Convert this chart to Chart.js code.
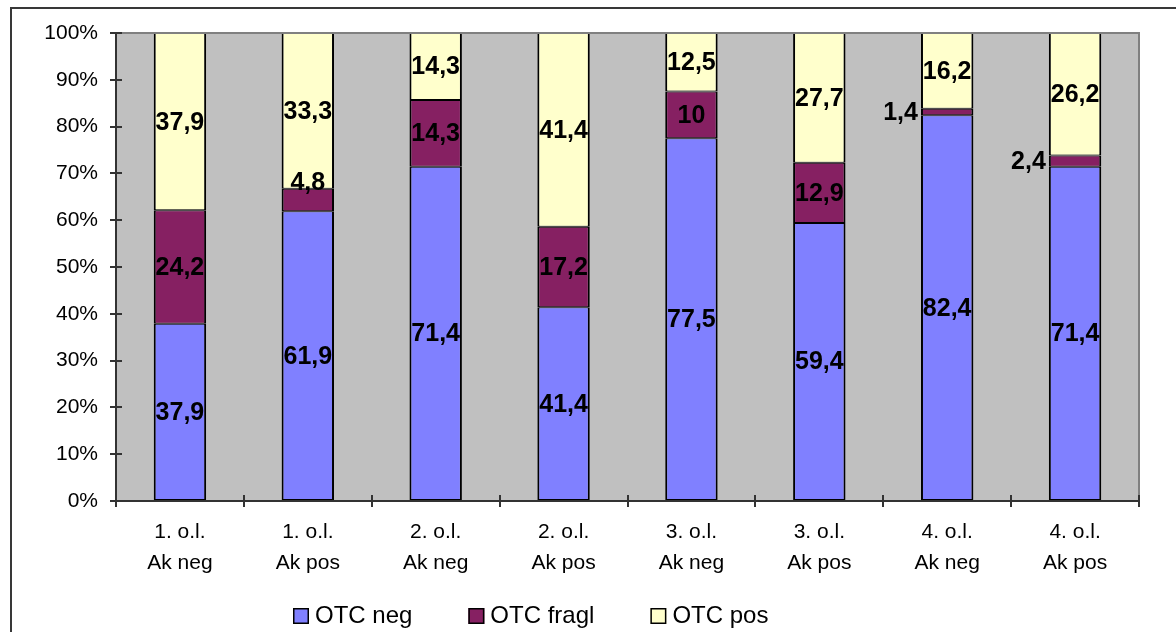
<!DOCTYPE html>
<html>
<head>
<meta charset="utf-8">
<style>
  html, body { margin: 0; padding: 0; background: #ffffff; }
  canvas { display: block; }
</style>
<script src="https://cdn.jsdelivr.net/npm/chart.js@4/dist/chart.umd.min.js"></script>
</head>
<body>
<canvas id="chart" width="1176" height="632"></canvas>
<script>
// Categories: two-line labels (line 1 = period, line 2 = antibody status)
const categories = [
  ['1. o.l.', 'Ak neg'], ['1. o.l.', 'Ak pos'],
  ['2. o.l.', 'Ak neg'], ['2. o.l.', 'Ak pos'],
  ['3. o.l.', 'Ak neg'], ['3. o.l.', 'Ak pos'],
  ['4. o.l.', 'Ak neg'], ['4. o.l.', 'Ak pos']
];

// Shares in percent, stacked from the bottom
const otcNeg   = [37.9, 61.9, 71.4, 41.4, 77.5, 59.4, 82.4, 71.4];
const otcFragl = [24.2, 4.8, 14.3, 17.2, 10, 12.9, 1.4, 2.4];
const otcPos   = [37.9, 33.3, 14.3, 41.4, 12.5, 27.7, 16.2, 26.2];

const seriesNames = ['OTC neg', 'OTC fragl', 'OTC pos'];
const yTicks = [0, 10, 20, 30, 40, 50, 60, 70, 80, 90, 100];

const COLORS = ['#8080FF', '#862062', '#FFFFCC'];
const FONT = '"Liberation Sans", Arial, Helvetica, sans-serif';

// Page background, outer frame and grey plot area
const backgroundPlugin = {
  id: 'background',
  beforeDraw(chart) {
    const { ctx, chartArea: a } = chart;
    ctx.save();
    ctx.fillStyle = '#ffffff';
    ctx.fillRect(0, 0, chart.width, chart.height);
    ctx.strokeStyle = '#383838';
    ctx.lineWidth = 2;
    ctx.strokeRect(11, 8, chart.width + 40, chart.height + 40);
    ctx.fillStyle = '#C0C0C0';
    ctx.fillRect(a.left, a.top, a.right - a.left, a.bottom - a.top);
    ctx.restore();
  }
};

// Plot border (top/right), inner halves of the crossing tick marks
const frameTicksPlugin = {
  id: 'frameTicks',
  afterDatasetsDraw(chart) {
    const { ctx, chartArea: a, scales } = chart;
    ctx.save();
    ctx.strokeStyle = '#808080';
    ctx.lineWidth = 2;
    ctx.beginPath();
    ctx.moveTo(a.left, a.top);
    ctx.lineTo(a.right, a.top);
    ctx.lineTo(a.right, a.bottom);
    ctx.stroke();

    ctx.strokeStyle = '#333333';
    ctx.lineWidth = 2;
    ctx.beginPath();
    yTicks.forEach(v => {
      const y = Math.round(scales.y.getPixelForValue(v));
      ctx.moveTo(a.left, y);
      ctx.lineTo(a.left + 6, y);
    });
    const n = categories.length;
    for (let i = 0; i <= n; i++) {
      const x = Math.round(a.left + (a.right - a.left) * i / n);
      ctx.moveTo(x, a.bottom);
      ctx.lineTo(x, a.bottom - 6);
    }
    ctx.stroke();
    ctx.restore();
  }
};

// Value labels on each segment; thin segments get the label beside or above
const valueLabelPlugin = {
  id: 'valueLabels',
  afterDatasetsDraw(chart) {
    const { ctx } = chart;
    ctx.save();
    ctx.fillStyle = '#000000';
    ctx.font = 'bold 25px ' + FONT;
    chart.data.datasets.forEach((ds, di) => {
      const meta = chart.getDatasetMeta(di);
      meta.data.forEach((bar, i) => {
        const v = ds.data[i];
        const text = String(v).replace('.', ',');
        const top = Math.min(bar.y, bar.base);
        const bottom = Math.max(bar.y, bar.base);
        const h = bottom - top;
        const mid = (top + bottom) / 2;
        ctx.textBaseline = 'middle';
        if (h < 15) {
          ctx.textAlign = 'right';
          ctx.fillText(text, bar.x - bar.width / 2 - 3, mid + 1);
        } else if (h < 28) {
          ctx.textAlign = 'center';
          ctx.fillText(text, bar.x, top - 6);
        } else {
          ctx.textAlign = 'center';
          ctx.fillText(text, bar.x, mid + 1);
        }
      });
    });
    ctx.restore();
  }
};

// Legend row under the category labels
const legendPlugin = {
  id: 'legendRow',
  afterDraw(chart) {
    const { ctx } = chart;
    ctx.save();
    ctx.font = '24px ' + FONT;
    ctx.textAlign = 'left';
    ctx.textBaseline = 'alphabetic';
    let x = 293;
    const boxTop = 608, box = 16;
    seriesNames.forEach((name, i) => {
      ctx.fillStyle = COLORS[i];
      ctx.fillRect(x, boxTop, box, box);
      ctx.strokeStyle = '#000000';
      ctx.lineWidth = 1.5;
      ctx.strokeRect(x + 0.75, boxTop + 0.75, box - 1.5, box - 1.5);
      ctx.fillStyle = '#000000';
      ctx.fillText(name, x + box + 6, 623);
      x += box + 6 + ctx.measureText(name).width + 56;
    });
    ctx.restore();
  }
};

const seriesData = [otcNeg, otcFragl, otcPos];

new Chart(document.getElementById('chart'), {
  type: 'bar',
  data: {
    labels: categories,
    datasets: seriesNames.map((name, i) => ({
      label: name,
      data: seriesData[i],
      backgroundColor: COLORS[i],
      borderColor: '#000000',
      borderWidth: { top: 1, bottom: 1, left: 2, right: 2 },
      borderSkipped: false,
      categoryPercentage: 1,
      barPercentage: 0.41
    }))
  },
  options: {
    responsive: false,
    animation: false,
    devicePixelRatio: 1,
    layout: { padding: { left: 0, top: 33, right: 37, bottom: 0 } },
    plugins: {
      legend: { display: false },
      tooltip: { enabled: false }
    },
    scales: {
      x: {
        stacked: true,
        afterFit(scale) { scale.height = 131; },
        grid: {
          display: true, drawOnChartArea: false, drawTicks: true,
          tickLength: 6, color: '#333333', lineWidth: 2, offset: true
        },
        border: { display: true, color: '#333333', width: 2 },
        ticks: {
          color: '#000000',
          font: { family: FONT, size: 21, lineHeight: 1.5 },
          padding: 9,
          maxRotation: 0
        }
      },
      y: {
        stacked: true,
        min: 0,
        max: 100,
        afterFit(scale) { scale.width = 116; },
        afterBuildTicks(scale) { scale.ticks = yTicks.map(v => ({ value: v })); },
        grid: {
          display: true, drawOnChartArea: false, drawTicks: true,
          tickLength: 6, color: '#333333', lineWidth: 2
        },
        border: { display: true, color: '#333333', width: 2 },
        ticks: {
          color: '#000000',
          font: { family: FONT, size: 21 },
          padding: 12,
          callback: v => v + '%'
        }
      }
    }
  },
  plugins: [backgroundPlugin, frameTicksPlugin, valueLabelPlugin, legendPlugin]
});
</script>
</body>
</html>
